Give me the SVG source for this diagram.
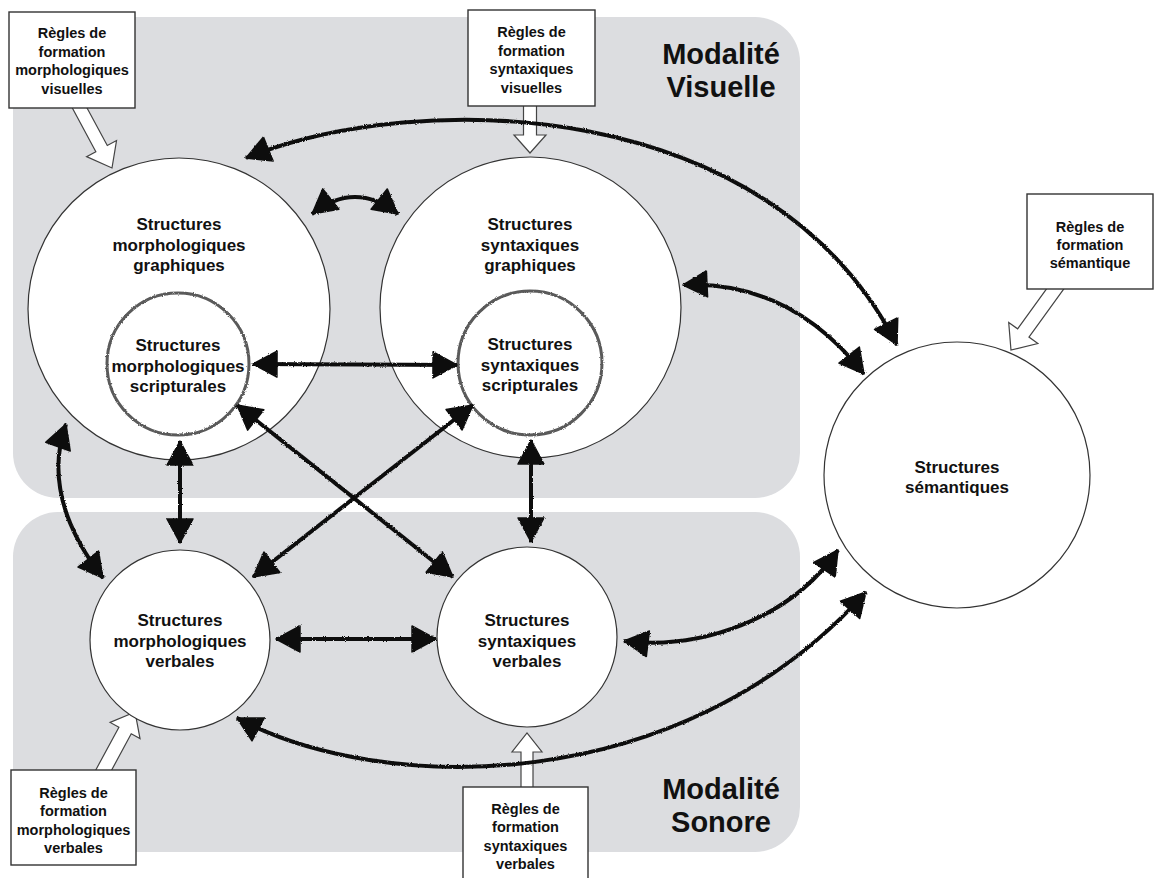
<svg xmlns="http://www.w3.org/2000/svg" width="1155" height="878" viewBox="0 0 1155 878">
  <style>
    .panel { fill: #dcdde0; }
    .modal { font-family: "Liberation Sans", Arial, sans-serif; font-weight: bold; font-size: 29px; fill: #111; text-anchor: middle; }
    .big { fill: #fff; stroke: #333; stroke-width: 1.2; }
    .inner { fill: #fff; stroke: #5a5a5a; stroke-width: 3; }
    .lbl { font-family: "Liberation Sans", Arial, sans-serif; font-weight: bold; font-size: 17px; fill: #111; text-anchor: middle; }
    .box { fill: #fff; stroke: #333; stroke-width: 1.4; }
    .blbl { font-family: "Liberation Sans", Arial, sans-serif; font-weight: bold; font-size: 14.5px; fill: #111; text-anchor: middle; }
    .hollow { fill: #fff; stroke: #444; stroke-width: 1.2; stroke-linejoin: miter; }
    .link { fill: none; stroke: #111; stroke-width: 4; stroke-linecap: butt; marker-start: url(#ah); marker-end: url(#ah); }
  </style>
  <defs>
    <marker id="ah" viewBox="-27 -15 30 30" refX="0" refY="0" markerWidth="30" markerHeight="30" markerUnits="userSpaceOnUse" orient="auto-start-reverse">
      <path d="M0,0 L-24,-13 L-24,13 Z" fill="#111" stroke="#111" stroke-width="1.5" stroke-linejoin="round"/>
    </marker>
    <filter id="rough" filterUnits="userSpaceOnUse" x="0" y="0" width="1155" height="878">
      <feTurbulence type="fractalNoise" baseFrequency="0.9" numOctaves="2" seed="4" result="n"/>
      <feDisplacementMap in="SourceGraphic" in2="n" scale="2.5" xChannelSelector="R" yChannelSelector="G"/>
    </filter>
  </defs>

  <g id="panel-visuelle">
    <rect class="panel" x="13" y="17" width="787" height="481" rx="45"/>
    <text class="modal" x="721" y="64">Modalité</text>
    <text class="modal" x="721" y="97">Visuelle</text>
  </g>
  <g id="panel-sonore">
    <rect class="panel" x="13" y="512" width="787" height="340" rx="45"/>
    <text class="modal" x="721" y="799">Modalité</text>
    <text class="modal" x="721" y="832">Sonore</text>
  </g>

  <g id="rule-arrows">
    <path class="hollow" transform="translate(77,103) rotate(61.7)" d="M0,-6.5 H51.8 V-17 L73.8,0 L51.8,17 V6.5 H0 Z"/>
    <path class="hollow" transform="translate(530,104) rotate(90)" d="M0,-6.5 H31 V-16 L49,0 L31,16 V6.5 H0 Z"/>
    <path class="hollow" transform="translate(1058,285) rotate(125.9)" d="M0,-7 H59.2 V-18 L80.2,0 L59.2,18 V7 H0 Z"/>
    <path class="hollow" transform="translate(101,775) rotate(-61.6)" d="M0,-7 H50.6 V-17 L71.6,0 L50.6,17 V7 H0 Z"/>
    <path class="hollow" transform="translate(527,789) rotate(-90)" d="M0,-6 H37 V-15 L56,0 L37,15 V6 H0 Z"/>
  </g>

  <g id="box-morph-visuelles">
    <rect class="box" x="9" y="12" width="126" height="96"/>
    <text class="blbl" x="72" y="38">Règles de</text>
    <text class="blbl" x="72" y="56.5">formation</text>
    <text class="blbl" x="72" y="75">morphologiques</text>
    <text class="blbl" x="72" y="93.5">visuelles</text>
  </g>
  <g id="box-synt-visuelles">
    <rect class="box" x="468" y="10" width="127" height="96"/>
    <text class="blbl" x="531.5" y="37">Règles de</text>
    <text class="blbl" x="531.5" y="55.5">formation</text>
    <text class="blbl" x="531.5" y="74">syntaxiques</text>
    <text class="blbl" x="531.5" y="92.5">visuelles</text>
  </g>
  <g id="box-semantique">
    <rect class="box" x="1027" y="194" width="126" height="95"/>
    <text class="blbl" x="1090" y="232">Règles de</text>
    <text class="blbl" x="1090" y="250">formation</text>
    <text class="blbl" x="1090" y="268">sémantique</text>
  </g>
  <g id="box-morph-verbales">
    <rect class="box" x="11" y="770" width="125" height="95"/>
    <text class="blbl" x="73.5" y="797.5">Règles de</text>
    <text class="blbl" x="73.5" y="816">formation</text>
    <text class="blbl" x="73.5" y="834.5">morphologiques</text>
    <text class="blbl" x="73.5" y="853">verbales</text>
  </g>
  <g id="box-synt-verbales">
    <rect class="box" x="463" y="787" width="125" height="97"/>
    <text class="blbl" x="525.5" y="813.5">Règles de</text>
    <text class="blbl" x="525.5" y="832">formation</text>
    <text class="blbl" x="525.5" y="850.5">syntaxiques</text>
    <text class="blbl" x="525.5" y="869">verbales</text>
  </g>

  <g id="node-morph-graphiques">
    <circle class="big" cx="179" cy="309" r="151"/>
    <text class="lbl" x="179" y="230">Structures</text>
    <text class="lbl" x="179" y="251">morphologiques</text>
    <text class="lbl" x="179" y="271">graphiques</text>
  </g>
  <g id="node-synt-graphiques">
    <circle class="big" cx="530.5" cy="307.5" r="150.5"/>
    <text class="lbl" x="530" y="230">Structures</text>
    <text class="lbl" x="530" y="251">syntaxiques</text>
    <text class="lbl" x="530" y="271">graphiques</text>
  </g>
  <g id="node-morph-scripturales">
    <circle class="inner" cx="178" cy="364" r="71" filter="url(#rough)"/>
    <text class="lbl" x="178" y="351">Structures</text>
    <text class="lbl" x="178" y="371.5">morphologiques</text>
    <text class="lbl" x="178" y="392">scripturales</text>
  </g>
  <g id="node-synt-scripturales">
    <circle class="inner" cx="530" cy="363" r="72" filter="url(#rough)"/>
    <text class="lbl" x="530" y="350">Structures</text>
    <text class="lbl" x="530" y="371">syntaxiques</text>
    <text class="lbl" x="530" y="391">scripturales</text>
  </g>
  <g id="node-semantiques">
    <circle class="big" cx="957" cy="475" r="133"/>
    <text class="lbl" x="957" y="473">Structures</text>
    <text class="lbl" x="957" y="493">sémantiques</text>
  </g>
  <g id="node-morph-verbales">
    <circle class="big" cx="180" cy="640" r="90"/>
    <text class="lbl" x="180" y="626">Structures</text>
    <text class="lbl" x="180" y="646.5">morphologiques</text>
    <text class="lbl" x="180" y="667">verbales</text>
  </g>
  <g id="node-synt-verbales">
    <circle class="big" cx="527" cy="637" r="90"/>
    <text class="lbl" x="527" y="626">Structures</text>
    <text class="lbl" x="527" y="646.5">syntaxiques</text>
    <text class="lbl" x="527" y="667">verbales</text>
  </g>

  <g id="connectors" filter="url(#rough)">
    <path class="link" d="M246,158 C420,88 770,95 897,345"/>
    <path class="link" d="M312,214 Q355,180 398,214"/>
    <path class="link" d="M253,364 L457,365"/>
    <path class="link" d="M237,405 L453,577"/>
    <path class="link" d="M473,405 L253,577"/>
    <path class="link" d="M180,441 L180,543"/>
    <path class="link" d="M531,440 L531,542"/>
    <path class="link" d="M66,424 Q40,497 103,578"/>
    <path class="link" d="M683,285 Q790,280 864,374"/>
    <path class="link" d="M624,641 C700,650 790,620 838,550"/>
    <path class="link" d="M237,718 C380,795 680,800 866,592"/>
    <path class="link" d="M276,639 L436,639"/>
  </g>
</svg>
